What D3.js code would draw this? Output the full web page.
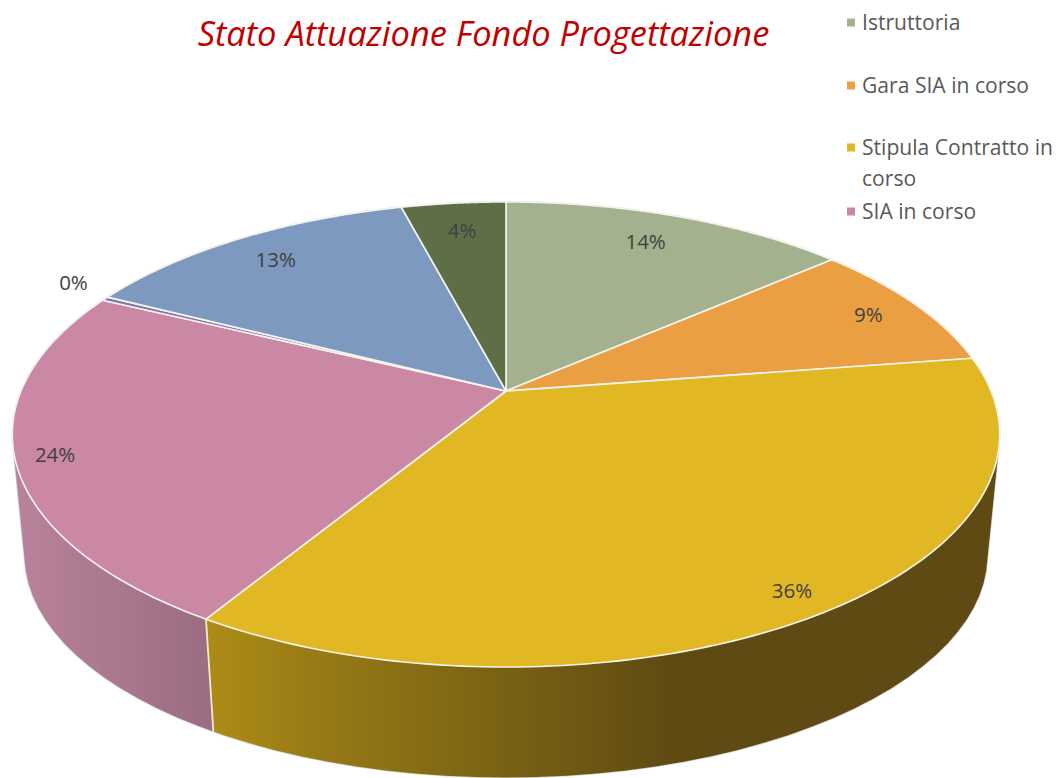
<!DOCTYPE html>
<html><head><meta charset="utf-8">
<script src="https://cdn.jsdelivr.net/npm/d3@7/dist/d3.min.js"></script>
<style>html,body{margin:0;background:#fff}svg{display:block}</style></head>
<body><svg id="c" width="1056" height="778"></svg>
<script>
const categories = ["Istruttoria","Gara SIA in corso","Stipula Contratto in corso","SIA in corso","Sospeso","Progettazione in corso","Completato"];
const values = [13.6,9.0,36.1,23.5,0.3,13.4,4.1];
const colors = ["#a3b18e","#eb9f43","#e1b823","#cb88a4","#8577ad","#7d99bf","#5e6f48"];
const legendShown = [0,1,2,3];
const labelReach = [0.82,0.87,0.91,0.92,1.10,0.85,0.83];
const labelNudge = [[-5,-2],[4,1],[1,2],[-1,3],[5,-7],[0,1],[1,0]];
const titleText = "Stato Attuazione Fondo Progettazione";

const svg = d3.select("#c");
const defs = svg.append("defs");
const top_ = {cx:506, cy:391, a:485, b:224.4};
const bot = {cx:506, cy:513, a:473, b:215};
const k = 0.187;
function proj(g, t, r=1){
  const u = Math.sin(t)*r, v = -Math.cos(t)*r, w = 1-k*v;
  return [g.cx+g.a*u/w, g.cy+g.b*v/w];
}
const slices = d3.pie().sort(null).value(d=>d)(values);
const arcPts = (g,a0,a1)=>d3.range(0,121).map(i=>proj(g,a0+(a1-a0)*i/120));
const line = d3.line();
const close = d3.line().curve(d3.curveLinearClosed);

function grad(id, stops){
  const g = defs.append("linearGradient").attr("id",id).attr("gradientUnits","userSpaceOnUse")
    .attr("x1",0).attr("x2",1056).attr("y1",0).attr("y2",0);
  stops.forEach(s=>g.append("stop").attr("offset",s[0]/1056).attr("stop-color",s[1]));
}
grad("wallPink",[[20,"#b8829a"],[213,"#9b6c82"]]);
grad("wallYellow",[[205,"#ad8c17"],[350,"#927515"],[500,"#7a6213"],[680,"#5e4a12"],[1000,"#5e4a12"]]);

// solid body: the hull of both rims, split at the pink/yellow seam
const seamAngle = slices[2].endAngle;
const seamTop = proj(top_,seamAngle), seamBot = proj(bot,seamAngle);
const seamEnd = [seamBot[0]+(seamBot[0]-seamTop[0])*0.5, seamBot[1]+(seamBot[1]-seamTop[1])*0.5];
const hull = d3.polygonHull(arcPts(top_,0,2*Math.PI).concat(arcPts(bot,0,2*Math.PI)));
svg.append("path").attr("d",close(hull)).attr("fill","#fff").attr("stroke","#d4d4d4").attr("stroke-width",1.6);
defs.append("clipPath").attr("id","leftSide").append("path")
  .attr("d",close([[0,0],[top_.cx,0],[top_.cx,top_.cy],seamTop,seamEnd,[seamEnd[0],778],[0,778]]));
defs.append("clipPath").attr("id","rightSide").append("path")
  .attr("d",close([[1056,0],[top_.cx,0],[top_.cx,top_.cy],seamTop,seamEnd,[seamEnd[0],778],[1056,778]]));
svg.append("path").attr("d",close(hull)).attr("fill","url(#wallPink)").attr("clip-path","url(#leftSide)");
svg.append("path").attr("d",close(hull)).attr("fill","url(#wallYellow)").attr("clip-path","url(#rightSide)");
svg.append("path").attr("d",line([seamTop,seamBot]))
  .attr("stroke","#f3ecd0").attr("stroke-width",1.8).attr("fill","none");

// top faces
slices.forEach((s,i)=>{
  const pts = [[top_.cx,top_.cy]].concat(arcPts(top_,s.startAngle,s.endAngle));
  svg.append("path").attr("d",close(pts)).attr("fill",colors[i])
    .attr("stroke","#f4f4ee").attr("stroke-width",1.6).attr("stroke-linejoin","round");
});

// data labels
const fmt = d3.format(".0f");
slices.forEach((s,i)=>{
  const p = proj(top_,(s.startAngle+s.endAngle)/2,labelReach[i]);
  svg.append("text").attr("x",p[0]+labelNudge[i][0]).attr("y",p[1]+labelNudge[i][1]).attr("dy","0.35em").attr("text-anchor","middle")
    .attr("font-family","'Open Sans',sans-serif").attr("font-size",20.5).attr("fill","#404040")
    .text(fmt(s.value)+"%");
});

// title
svg.append("text").attr("x",483.5).attr("y",46).attr("text-anchor","middle")
  .attr("font-family","'Open Sans',sans-serif").attr("font-style","italic").attr("font-size",34.4)
  .attr("fill","#c00000").text(titleText);

// legend
const legendRows = [[23],[86],[148,179],[212]];
const legendLines = [["Istruttoria"],["Gara SIA in corso"],["Stipula Contratto in","corso"],["SIA in corso"]];
legendShown.forEach((c,i)=>{
  svg.append("rect").attr("x",847).attr("y",legendRows[i][0]-4.5).attr("width",8).attr("height",8).attr("fill",colors[c]);
  legendLines[i].forEach((t,j)=>svg.append("text").attr("x",862).attr("y",legendRows[i][j]).attr("dy","0.35em")
    .attr("font-family","'Open Sans',sans-serif").attr("font-size",21.1).attr("fill","#595959").text(t));
});
</script></body></html>
